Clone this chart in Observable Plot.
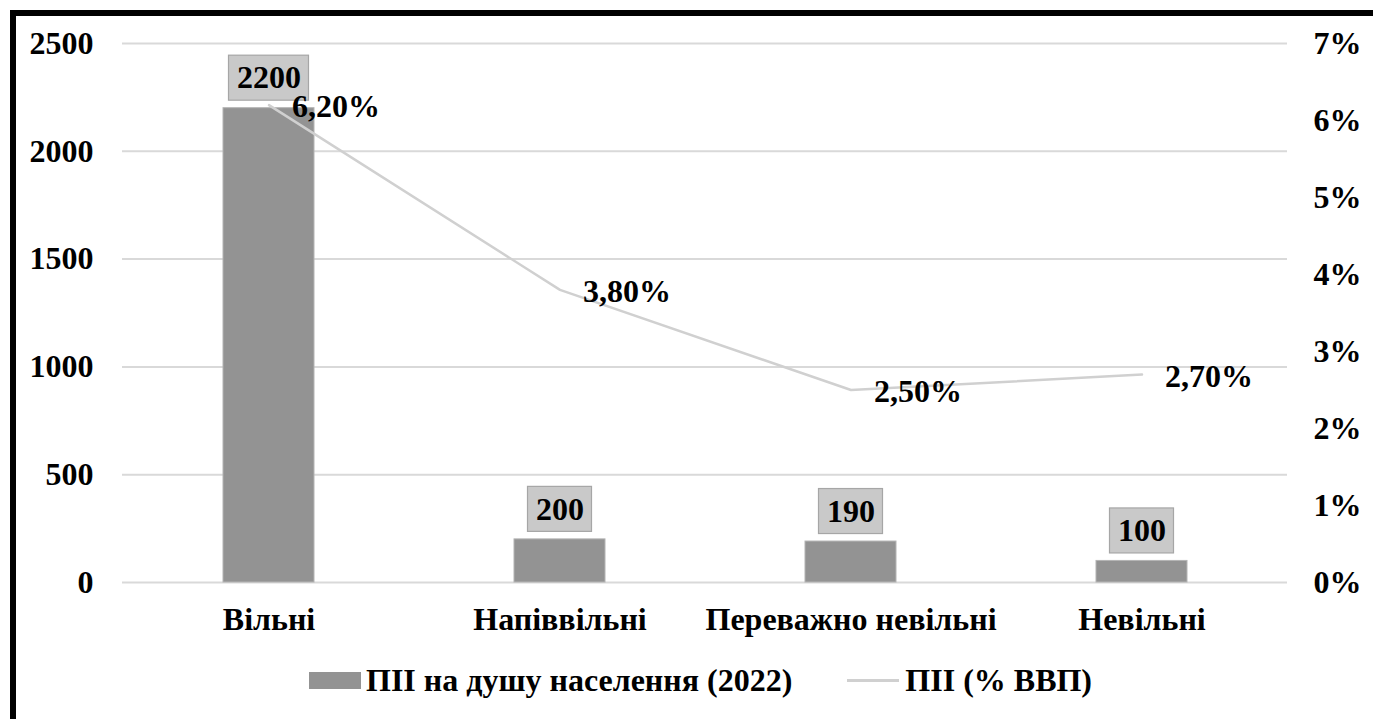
<!DOCTYPE html>
<html>
<head>
<meta charset="utf-8">
<script src="https://cdn.jsdelivr.net/npm/d3@7"></script>
<script src="https://cdn.jsdelivr.net/npm/@observablehq/plot@0.6"></script>
<style>
  * { font-family: 'Liberation Serif', serif !important; }
  html, body { margin: 0; padding: 0; background: #fff; overflow: hidden; width: 1373px; height: 719px; }
  #frame { position: absolute; left: 10px; top: 10px; width: 1420px; height: 780px; border: 6px solid #000; box-sizing: border-box; }
  #chart { position: absolute; left: 0; top: 0; }
  #legend { position: absolute; left: 309px; top: 662px; display: flex; align-items: center;
            font-weight: bold; font-size: 32px; color: #000; white-space: nowrap; }
  .sw-bar { width: 52px; height: 17px; background: #939393; margin-right: 5px; }
  .sw-line { width: 52px; height: 2.5px; background: #d0d0d0; margin-right: 6px; margin-left: 55px; }
  svg text { font-weight: bold; }
</style>
</head>
<body>
<div id="frame"></div>
<div id="chart"></div>
<div id="legend"></div>
<script>
const categories = ["Вільні", "Напіввільні", "Переважно невільні", "Невільні"];
const fdiPerCapita = [2200, 200, 190, 100];
const fdiPctGdp = [6.2, 3.8, 2.5, 2.7];
const leftTicks = [0, 500, 1000, 1500, 2000, 2500];
const rightTicks = [0, 1, 2, 3, 4, 5, 6, 7];
const seriesNames = ["ПІІ на душу населення (2022)", "ПІІ (% ВВП)"];

const leftMax = 2500, rightMax = 7;
const toLeft = p => p * leftMax / rightMax;

const data = categories.map((c, i) => ({cat: c, value: fdiPerCapita[i], pct: fdiPctGdp[i]}));

const font = "Liberation Serif";
const fs = 32;

// label-box geometry (data units above the bar top: gap ~7.5px, height ~45px)
const unitsPerPx = leftMax / 539;
const boxLo = 7.5 * unitsPerPx, boxHi = (7.5 + 45) * unitsPerPx;
const labelBox = (digits, inset) => Plot.barY(data.filter(d => String(d.value).length === digits), {
  x: "cat", y1: d => d.value + boxLo, y2: d => d.value + boxHi,
  fill: "#c9c9c9", stroke: "#a6a6a6", strokeWidth: 1.2, insetLeft: inset, insetRight: inset
});

const chart = Plot.plot({
  width: 1373,
  height: 640,
  marginLeft: 122,
  marginRight: 86,
  marginTop: 43,
  marginBottom: 58,
  style: {fontFamily: font, fontWeight: "bold", fontSize: fs + "px", color: "#000", background: "transparent", overflow: "visible"},
  x: {domain: categories, padding: 0, label: null},
  y: {domain: [0, leftMax], label: null},
  marks: [
    Plot.gridY(leftTicks, {stroke: "#d9d9d9", strokeOpacity: 1, strokeWidth: 2}),
    Plot.axisY({ticks: leftTicks, tickFormat: d => String(d), tickSize: 0, tickPadding: 29, label: null, fontSize: fs, fontFamily: font}),
    Plot.axisY({anchor: "right", ticks: rightTicks.map(toLeft), tickFormat: v => Math.round(v * rightMax / leftMax) + "%", tickSize: 0, tickPadding: 26, label: null, fontSize: fs, fontFamily: font}),
    Plot.axisX({tickSize: 0, tickPadding: 25, label: null, fontSize: fs, fontFamily: font}),
    Plot.barY(data, {x: "cat", y: "value", fill: "#939393", stroke: "#b4b4b4", strokeWidth: 1, insetLeft: 100, insetRight: 100}),
    Plot.line(data, {x: "cat", y: d => toLeft(d.pct), stroke: "#d0d0d0", strokeWidth: 2.5}),
    labelBox(4, 105.5),
    labelBox(3, 113.5),
    Plot.text(data, {x: "cat", y: "value", text: d => String(d.value), dy: -30, fontSize: fs, fontWeight: "bold", fontFamily: font, fill: "#000"}),
    Plot.text(data, {x: "cat", y: d => toLeft(d.pct), text: d => d.pct.toFixed(2).replace(".", ",") + "%", textAnchor: "start", dx: 23, dy: 2, fontSize: fs, fontWeight: "bold", fontFamily: font, fill: "#000"})
  ]
});
document.getElementById("chart").appendChild(chart);

const legend = document.getElementById("legend");
legend.innerHTML = `<div class="sw-bar"></div><span>${seriesNames[0]}</span><div class="sw-line"></div><span>${seriesNames[1]}</span>`;
</script>
</body>
</html>
